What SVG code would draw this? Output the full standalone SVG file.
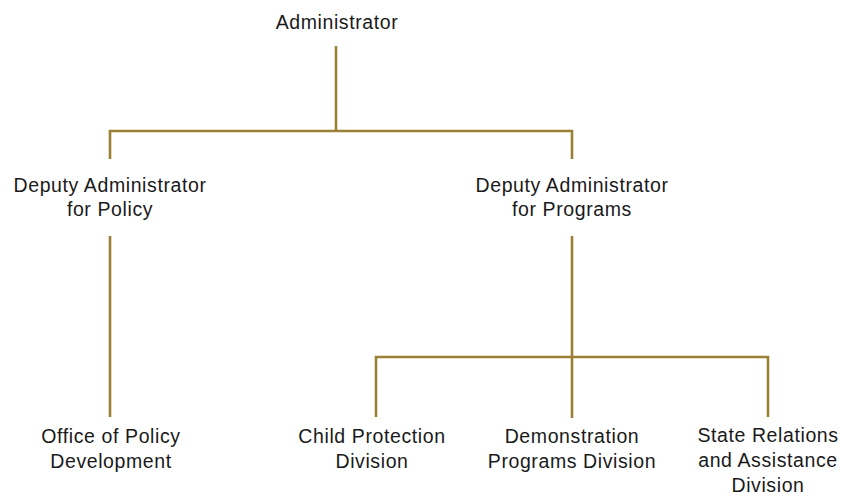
<svg xmlns="http://www.w3.org/2000/svg" width="841" height="498" viewBox="0 0 841 498">
<style>
.t{font-family:"Liberation Sans",Arial,sans-serif;font-size:19.5px;letter-spacing:0.6px;fill:#1a1a1a;text-anchor:middle}
.c{stroke:#9b8034;stroke-width:2.6;fill:none}
</style>
<rect width="841" height="498" fill="#ffffff"/>
<g id="connectors">
<path class="c" d="M336,46 V131 M110,159 V131 H572 V159"/>
<path class="c" d="M110,236 V417"/>
<path class="c" d="M572,236 V418 M376,417 V357 H768 V417"/>
</g>
<g id="administrator"><text class="t" x="337" y="29">Administrator</text></g>
<g id="deputy-policy"><text class="t" x="110" y="192">Deputy Administrator</text><text class="t" x="110" y="216">for Policy</text></g>
<g id="deputy-programs"><text class="t" x="572" y="192">Deputy Administrator</text><text class="t" x="572" y="216">for Programs</text></g>
<g id="office-policy"><text class="t" x="111" y="443">Office of Policy</text><text class="t" x="111" y="468">Development</text></g>
<g id="child-protection"><text class="t" x="372" y="443">Child Protection</text><text class="t" x="372" y="468">Division</text></g>
<g id="demonstration"><text class="t" x="572" y="443">Demonstration</text><text class="t" x="572" y="468">Programs Division</text></g>
<g id="state-relations"><text class="t" x="768" y="442">State Relations</text><text class="t" x="768" y="467">and Assistance</text><text class="t" x="768" y="492">Division</text></g>
</svg>
